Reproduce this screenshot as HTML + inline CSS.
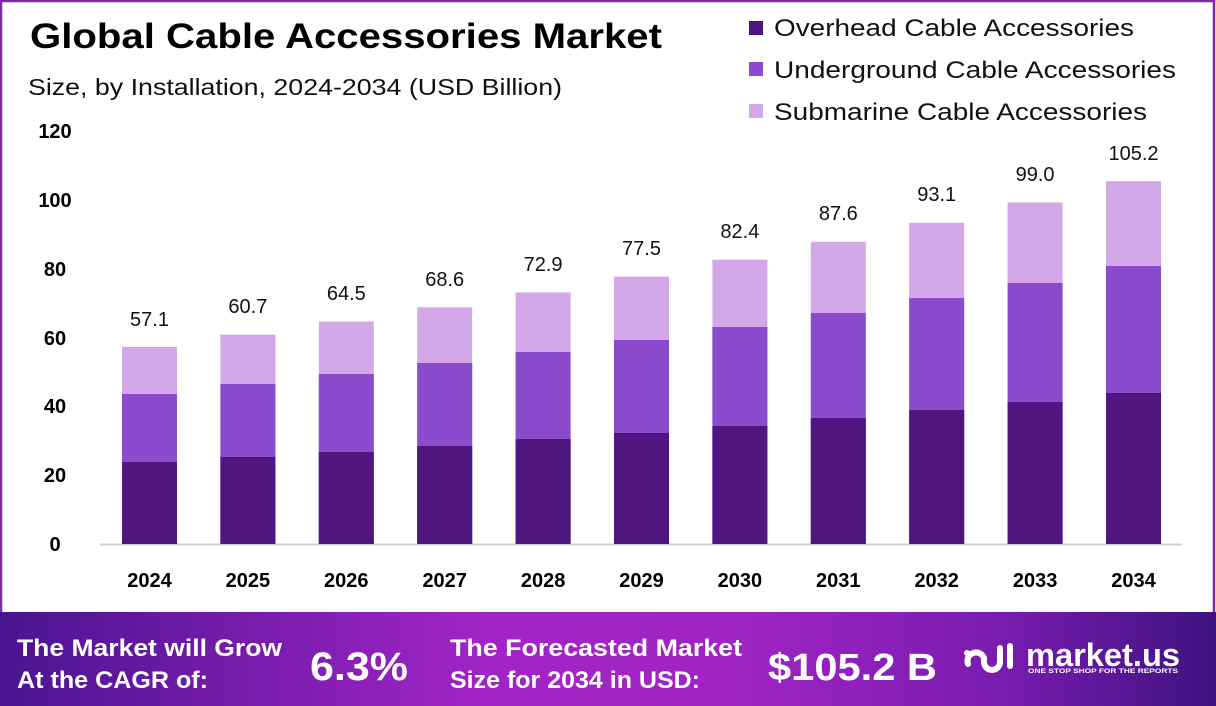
<!DOCTYPE html>
<html><head><meta charset="utf-8"><style>
html,body{margin:0;padding:0;background:#fff}
svg{display:block}
text{font-family:"Liberation Sans",sans-serif}
</style></head><body>
<svg width="1216" height="706" viewBox="0 0 1216 706" xmlns="http://www.w3.org/2000/svg">
<defs>
<linearGradient id="bn" x1="0" x2="1" y1="0" y2="0">
<stop offset="0" stop-color="#4a1490"/>
<stop offset="0.4" stop-color="#a224c6"/>
<stop offset="0.6" stop-color="#a024c4"/>
<stop offset="0.82" stop-color="#7a1cb0"/>
<stop offset="1" stop-color="#3e1280"/>
</linearGradient>
</defs>
<rect x="0" y="0" width="1216" height="706" fill="#fff"/>
<rect x="1" y="1" width="1213" height="704" fill="none" stroke="#7e2aa0" stroke-width="2.5"/>
<text x="30" y="48" font-size="35" font-weight="bold" fill="#000" textLength="632" lengthAdjust="spacingAndGlyphs">Global Cable Accessories Market</text>
<text x="28" y="95" font-size="23" fill="#111" textLength="534" lengthAdjust="spacingAndGlyphs">Size, by Installation, 2024-2034 (USD Billion)</text>
<rect x="749" y="21" width="14" height="14" fill="#4f1680"/>
<text x="774" y="36" font-size="24" fill="#111" textLength="360" lengthAdjust="spacingAndGlyphs">Overhead Cable Accessories</text>
<rect x="749" y="62" width="14" height="14" fill="#8a4ccc"/>
<text x="774" y="78" font-size="24" fill="#111" textLength="402" lengthAdjust="spacingAndGlyphs">Underground Cable Accessories</text>
<rect x="749" y="104" width="14" height="14" fill="#d3a8e8"/>
<text x="774" y="120" font-size="24" fill="#111" textLength="373" lengthAdjust="spacingAndGlyphs">Submarine Cable Accessories</text>
<g font-size="20" font-weight="bold" fill="#000" text-anchor="middle">
<text x="55" y="138">120</text><text x="55" y="207">100</text><text x="55" y="276">80</text><text x="55" y="345">60</text><text x="55" y="413">40</text><text x="55" y="482">20</text><text x="55" y="551">0</text>
</g>
<line x1="100" y1="544.5" x2="1182" y2="544.5" stroke="#cfcfcf" stroke-width="2"/>
<g>
<rect x="122" y="347" width="55" height="197" fill="#d3a8e8"/><rect x="122" y="394" width="55" height="150" fill="#8a4ccc"/><rect x="122" y="462" width="55" height="82" fill="#4f1680"/>
<rect x="220.4" y="334.6" width="55" height="209.4" fill="#d3a8e8"/><rect x="220.4" y="384" width="55" height="160" fill="#8a4ccc"/><rect x="220.4" y="457" width="55" height="87" fill="#4f1680"/>
<rect x="318.8" y="321.5" width="55" height="222.5" fill="#d3a8e8"/><rect x="318.8" y="374" width="55" height="170" fill="#8a4ccc"/><rect x="318.8" y="452" width="55" height="92" fill="#4f1680"/>
<rect x="417.2" y="307.3" width="55" height="236.7" fill="#d3a8e8"/><rect x="417.2" y="363" width="55" height="181" fill="#8a4ccc"/><rect x="417.2" y="446" width="55" height="98" fill="#4f1680"/>
<rect x="515.6" y="292.5" width="55" height="251.5" fill="#d3a8e8"/><rect x="515.6" y="352" width="55" height="192" fill="#8a4ccc"/><rect x="515.6" y="439" width="55" height="105" fill="#4f1680"/>
<rect x="614" y="276.6" width="55" height="267.4" fill="#d3a8e8"/><rect x="614" y="340" width="55" height="204" fill="#8a4ccc"/><rect x="614" y="433" width="55" height="111" fill="#4f1680"/>
<rect x="712.4" y="259.7" width="55" height="284.3" fill="#d3a8e8"/><rect x="712.4" y="327" width="55" height="217" fill="#8a4ccc"/><rect x="712.4" y="426" width="55" height="118" fill="#4f1680"/>
<rect x="810.8" y="241.8" width="55" height="302.2" fill="#d3a8e8"/><rect x="810.8" y="313" width="55" height="231" fill="#8a4ccc"/><rect x="810.8" y="418" width="55" height="126" fill="#4f1680"/>
<rect x="909.2" y="222.8" width="55" height="321.2" fill="#d3a8e8"/><rect x="909.2" y="298" width="55" height="246" fill="#8a4ccc"/><rect x="909.2" y="410" width="55" height="134" fill="#4f1680"/>
<rect x="1007.6" y="202.5" width="55" height="341.5" fill="#d3a8e8"/><rect x="1007.6" y="283" width="55" height="261" fill="#8a4ccc"/><rect x="1007.6" y="402" width="55" height="142" fill="#4f1680"/>
<rect x="1106" y="181.1" width="55" height="362.9" fill="#d3a8e8"/><rect x="1106" y="266" width="55" height="278" fill="#8a4ccc"/><rect x="1106" y="393" width="55" height="151" fill="#4f1680"/>
</g>
<g font-size="20" fill="#111" text-anchor="middle">
<text x="149.5" y="326">57.1</text><text x="247.9" y="313">60.7</text><text x="346.3" y="300">64.5</text><text x="444.7" y="286">68.6</text><text x="543.1" y="271">72.9</text><text x="641.5" y="255">77.5</text><text x="739.9" y="238">82.4</text><text x="838.3" y="220">87.6</text><text x="936.7" y="201">93.1</text><text x="1035.1" y="181">99.0</text><text x="1133.5" y="160">105.2</text>
</g>
<g font-size="20" font-weight="bold" fill="#000" text-anchor="middle">
<text x="149.5" y="587">2024</text><text x="247.9" y="587">2025</text><text x="346.3" y="587">2026</text><text x="444.7" y="587">2027</text><text x="543.1" y="587">2028</text><text x="641.5" y="587">2029</text><text x="739.9" y="587">2030</text><text x="838.3" y="587">2031</text><text x="936.7" y="587">2032</text><text x="1035.1" y="587">2033</text><text x="1133.5" y="587">2034</text>
</g>
<rect x="0" y="612" width="1216" height="94" fill="url(#bn)"/>
<g fill="#fff" font-weight="bold">
<text x="17" y="656" font-size="24" textLength="265" lengthAdjust="spacingAndGlyphs">The Market will Grow</text>
<text x="17" y="688" font-size="24" textLength="191" lengthAdjust="spacingAndGlyphs">At the CAGR of:</text>
<text x="310" y="680" font-size="40" textLength="98" lengthAdjust="spacingAndGlyphs">6.3%</text>
<text x="450" y="656" font-size="24" textLength="292" lengthAdjust="spacingAndGlyphs">The Forecasted Market</text>
<text x="450" y="688" font-size="24" textLength="250" lengthAdjust="spacingAndGlyphs">Size for 2034 in USD:</text>
<text x="768" y="680" font-size="38" textLength="169" lengthAdjust="spacingAndGlyphs">$105.2 B</text>
<text x="1026" y="666" font-size="32" textLength="154" lengthAdjust="spacingAndGlyphs">market.us</text>
<text x="1028" y="673" font-size="6.5" textLength="150" lengthAdjust="spacingAndGlyphs">ONE STOP SHOP FOR THE REPORTS</text>
</g>
<g fill="none" stroke="#fff" stroke-width="6" stroke-linecap="round">
<path d="M968 664 a8 8 0 0 1 16 -6 v4 a8 8 0 0 0 16 0 v-14"/>
<line x1="1010" y1="646" x2="1010" y2="666"/>
</g>
<circle cx="967" cy="653" r="3" fill="#fff"/>
</svg>
</body></html>
